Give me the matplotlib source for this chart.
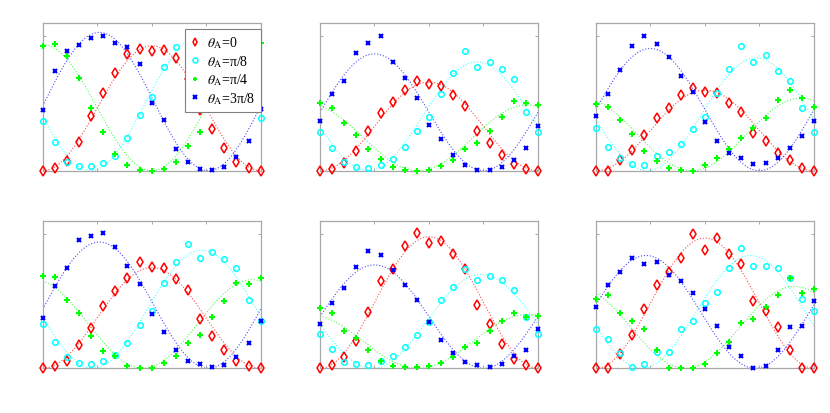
import numpy as np
import matplotlib
matplotlib.use('Agg')
import matplotlib.pyplot as plt

plt.rcParams['font.family'] = ['Liberation Serif', 'DejaVu Serif']
plt.rcParams['mathtext.fontset'] = 'stix'

# measurement angle, 19 steps across each panel (normalised 0..1)
steps = np.arange(19) / 18.0

labels = [r'$\theta_\mathrm{A}$=0', r'$\theta_\mathrm{A}$=π/8',
          r'$\theta_\mathrm{A}$=π/4', r'$\theta_\mathrm{A}$=3π/8']
colors = ['#ff0000', '#00ffff', '#00ff00', '#0000ff']

# normalised counts, one list per panel (row-major, 2x3)
red = [
    [0, 0.02, 0.075, 0.21, 0.41, 0.58, 0.73, 0.87, 0.91, 0.89, 0.90, 0.84, 0.68, 0.45, 0.31, 0.17, 0.067, 0.02, 0],
    [0, 0.012, 0.057, 0.144, 0.293, 0.43, 0.514, 0.603, 0.67, 0.643, 0.633, 0.564, 0.479, 0.293, 0.206, 0.117, 0.047, 0.012, 0],
    [0, 0, 0.079, 0.156, 0.268, 0.392, 0.469, 0.561, 0.616, 0.588, 0.579, 0.504, 0.435, 0.281, 0.219, 0.129, 0.077, 0.02, 0],
    [0, 0.015, 0.057, 0.174, 0.30, 0.462, 0.579, 0.673, 0.79, 0.752, 0.747, 0.665, 0.584, 0.367, 0.243, 0.137, 0.057, 0.02, 0],
    [0, 0.027, 0.082, 0.206, 0.422, 0.648, 0.74, 0.909, 1.005, 0.931, 0.946, 0.852, 0.74, 0.474, 0.33, 0.181, 0.07, 0.025, 0],
    [0, 0, 0.107, 0.248, 0.442, 0.623, 0.72, 0.819, 1.0, 0.881, 0.971, 0.852, 0.777, 0.504, 0.43, 0.305, 0.139, 0, 0],
]
cyan = [
    [0.372, 0.211, 0.067, 0.032, 0.032, 0.057, 0.112, 0.243, 0.415, 0.546, 0.775, 0.919, 0.98, 1.0, 0.98, 0.9, 0.78, 0.6, 0.39],
    [0.286, 0.166, 0.067, 0.025, 0.02, 0.045, 0.087, 0.174, 0.293, 0.397, 0.571, 0.725, 0.889, 0.775, 0.807, 0.757, 0.683, 0.44, 0.286],
    [0.315, 0.176, 0.097, 0.047, 0.045, 0.107, 0.142, 0.201, 0.308, 0.402, 0.579, 0.76, 0.926, 0.812, 0.861, 0.745, 0.665, 0.464, 0.29],
    [0.33, 0.199, 0.082, 0.04, 0.032, 0.057, 0.099, 0.186, 0.323, 0.43, 0.636, 0.79, 0.926, 0.819, 0.869, 0.814, 0.745, 0.509, 0.355],
    [0.256, 0.144, 0.05, 0.032, 0.027, 0.052, 0.089, 0.156, 0.251, 0.343, 0.509, 0.603, 0.74, 0.658, 0.69, 0.658, 0.584, 0.38, 0.256],
    [0.293, 0.218, 0.112, 0.007, 0.032, 0.124, 0.124, 0.293, 0.35, 0.487, 0.566, 0.745, 0.894, 0.76, 0.76, 0.745, 0.67, 0.516, 0.43],
]
green = [
    [0.931, 0.943, 0.852, 0.69, 0.467, 0.286, 0.124, 0.045, 0.007, 0, 0.012, 0.062, 0.181, 0.286, 0.5, 0.68, 0.82, 0.91, 0.948],
    [0.504, 0.469, 0.355, 0.268, 0.161, 0.087, 0.025, 0.007, 0, 0.007, 0.037, 0.082, 0.161, 0.206, 0.298, 0.40, 0.521, 0.502, 0.492],
    [0.497, 0.477, 0.38, 0.273, 0.149, 0.074, 0.02, 0.005, 0, 0.042, 0.092, 0.161, 0.241, 0.315, 0.39, 0.529, 0.603, 0.539, 0.472],
    [0.69, 0.678, 0.511, 0.41, 0.238, 0.132, 0.094, 0.015, 0, 0, 0.037, 0.094, 0.186, 0.251, 0.38, 0.504, 0.636, 0.628, 0.67],
    [0.447, 0.41, 0.281, 0.223, 0.139, 0.052, 0.02, 0.007, 0.007, 0.02, 0.04, 0.087, 0.156, 0.189, 0.276, 0.355, 0.41, 0.38, 0.392],
    [0.516, 0.546, 0.412, 0.35, 0.293, 0.139, 0, 0, 0, 0.032, 0.112, 0.199, 0.335, 0.367, 0.454, 0.546, 0.67, 0.561, 0.591],
]
blue = [
    [0.454, 0.745, 0.894, 0.939, 0.988, 1.0, 0.951, 0.919, 0.795, 0.502, 0.377, 0.161, 0.062, 0.012, 0.005, 0.03, 0.099, 0.218, 0.459],
    [0.367, 0.571, 0.67, 0.877, 0.951, 1.0, 0.812, 0.688, 0.539, 0.343, 0.236, 0.117, 0.045, 0.007, 0.005, 0.025, 0.082, 0.166, 0.335],
    [0.41, 0.571, 0.752, 0.931, 1.0, 0.944, 0.849, 0.708, 0.588, 0.365, 0.223, 0.132, 0.092, 0.052, 0.057, 0.092, 0.166, 0.256, 0.372],
    [0.372, 0.616, 0.747, 0.958, 0.983, 1.005, 0.901, 0.76, 0.628, 0.402, 0.273, 0.137, 0.057, 0.03, 0.007, 0.025, 0.082, 0.186, 0.355],
    [0.33, 0.487, 0.601, 0.752, 0.876, 0.847, 0.735, 0.621, 0.509, 0.343, 0.211, 0.112, 0.05, 0.027, 0.012, 0.032, 0.089, 0.137, 0.293],
    [0.459, 0.621, 0.715, 0.819, 0.777, 0.79, 0.698, 0.653, 0.561, 0.442, 0.318, 0.156, 0.094, 0, 0.02, 0.137, 0.305, 0.318, 0.502],
]

# fitted fringe parameters per panel: (amplitude, phase) for A*sin^2(pi*(x - phase))
red_fit = [(0.93, 0.0), (0.66, 0.0), (0.60, 0.0), (0.75, 0.0), (0.98, 0.0), (0.97, 0.0)]
cyan_fit = [(1.0, 0.22), (0.81, 0.22), (0.84, 0.235), (0.88, 0.23), (0.70, 0.24), (0.84, 0.21)]
green_fit = [(0.94, 0.5), (0.49, 0.45), (0.54, 0.44), (0.66, 0.46), (0.40, 0.45), (0.61, 0.41)]
blue_fit = [(1.03, 0.76), (0.87, 0.75), (0.91, 0.75), (0.94, 0.76), (0.77, 0.75), (0.84, 0.73)]

series = [red, cyan, green, blue]
fits = [red_fit, cyan_fit, green_fit, blue_fit]
styles = [
    dict(marker='d', ms=4.6, mew=1.1, mfc='none'),
    dict(marker='o', ms=4.0, mew=1.1, mfc='none'),
    dict(marker='+', ms=3.8, mew=1.5),
    dict(marker='x', ms=2.6, mew=1.5),
]

fig = plt.figure(figsize=(8.3, 4.14), dpi=100)
lefts = [0.0514, 0.3855, 0.718]
bottoms = [0.5853, 0.108]
w, h = 0.2627, 0.3567

xs = np.linspace(0, 1, 300)
for p in range(6):
    ax = fig.add_axes([lefts[p % 3], bottoms[p // 3], w, h])
    handles = []
    for k in range(4):
        amp, ph = fits[k][p]
        ax.plot(xs, amp * np.sin(np.pi * (xs - ph)) ** 2, ls=':', lw=0.8,
                color=colors[k], alpha=0.7, zorder=1)
    for k in range(4):
        ln, = ax.plot(steps, series[k][p], ls='none', color=colors[k],
                      mec=colors[k], clip_on=False, zorder=3, **styles[k])
        handles.append(ln)

    ax.set_xlim(0, 1)
    ax.set_ylim(0, 1.1)
    ax.set_xticks([0, 0.25, 0.5, 0.75, 1])
    ax.set_yticks([0, 1])
    ax.tick_params(direction='in', length=2.5, width=0.6, colors='#9a9a9a',
                   top=True, right=True, labelbottom=False, labelleft=False)
    for s in ax.spines.values():
        s.set_color('#a8a8a8')
        s.set_linewidth(0.9)

    if p == 0:
        leg = ax.legend(handles, labels, loc='upper right',
                        bbox_to_anchor=(1.0, 0.96), borderaxespad=0,
                        fontsize=10, fancybox=False, edgecolor='#808080',
                        framealpha=1, handlelength=0.7, handletextpad=0.5,
                        labelspacing=0.2, borderpad=0.4, markerscale=0.9)
        leg.get_frame().set_linewidth(0.8)
        leg.set_zorder(10)

fig.savefig('out.png', dpi=100)
